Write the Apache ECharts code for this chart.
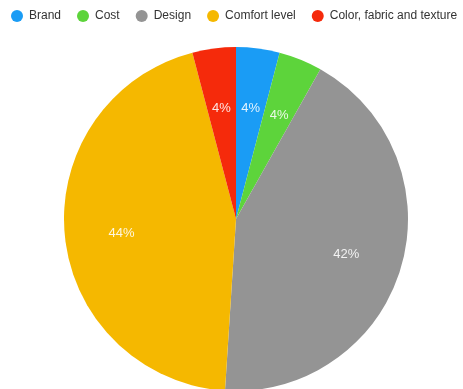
<!DOCTYPE html>
<html>
<head>
<meta charset="utf-8">
<script src="https://cdn.jsdelivr.net/npm/echarts@6/dist/echarts.min.js"></script>
<style>
  html, body { margin: 0; padding: 0; background: #fff; }
  #chart { width: 463px; height: 389px; }
</style>
</head>
<body>
<div id="chart"></div>
<script>
// categories and shares (%)
const categories = ["Brand", "Cost", "Design", "Comfort level", "Color, fabric and texture"];
const shares = [4, 4, 42, 44, 4];
const colors = ["#1a9cf5", "#5dd43b", "#949494", "#f5b800", "#f52a0b"];

const chart = echarts.init(document.getElementById("chart"));

const pieData = categories.map((name, i) => ({ name: name, value: shares[i] }));

chart.setOption({
  animation: false,
  color: colors,
  legend: {
    top: 10,
    left: 11,
    right: 0,
    padding: 0,
    icon: "circle",
    itemWidth: 14,
    itemHeight: 12,
    itemGap: 16,
    textStyle: { fontFamily: "Liberation Sans", fontSize: 12, color: "#333" },
    data: categories,
  },
  series: [
    {
      // the pie itself
      type: "pie",
      center: [236, 219],
      radius: 172,
      startAngle: 90,
      clockwise: true,
      label: { show: false },
      labelLine: { show: false },
      data: pieData,
    },
    {
      // transparent ring, only for placing labels further out
      type: "pie",
      center: [236, 222],
      radius: [52, 172],
      startAngle: 90,
      clockwise: true,
      silent: true,
      legendHoverLink: false,
      itemStyle: { color: "transparent" },
      label: {
        show: true,
        position: "inside",
        formatter: "{c}%",
        fontFamily: "Liberation Sans",
        fontSize: 13,
        color: "rgba(255,255,255,0.88)",
      },
      labelLine: { show: false },
      data: pieData,
    },
  ],
});
</script>
</body>
</html>
